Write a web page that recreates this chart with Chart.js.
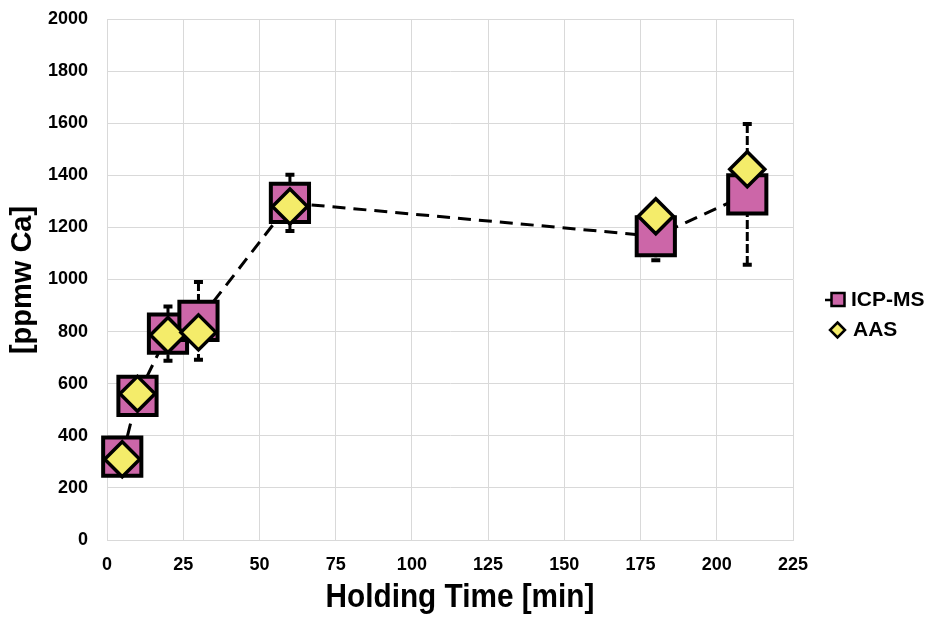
<!DOCTYPE html>
<html>
<head>
<meta charset="utf-8">
<script src="https://cdn.jsdelivr.net/npm/chart.js@4/dist/chart.umd.min.js"></script>
<style>
  html, body { margin: 0; padding: 0; background: #ffffff; }
  #wrap { width: 940px; height: 618px; }
</style>
</head>
<body>
<div id="wrap"><canvas id="chart" width="940" height="618"></canvas></div>
<script>
// Calcium content vs. holding time
const holdingTime = [5, 10, 20, 30, 60, 180, 210];          // min
const icpMs       = [320, 553, 792, 841, 1294, 1166, 1327];  // ppmw Ca
const icpMsErr    = [50, 45, 104, 149, 108, 92, 270];        // ± ppmw
const aas         = [310, 561, 787, 797, 1280, 1243, 1423];  // ppmw Ca

const xTickValues = [0, 25, 50, 75, 100, 125, 150, 175, 200, 225];
const yTickValues = [0, 200, 400, 600, 800, 1000, 1200, 1400, 1600, 1800, 2000];

const seriesNames = ['ICP-MS', 'AAS'];
const xTitle = 'Holding Time [min]';
const yTitle = '[ppmw Ca]';

const PINK = '#CC66A8';
const YELLOW = '#F4EC6A';
const FONT = '"Liberation Sans", Arial, sans-serif';

const toPoints = (xs, ys) => xs.map((x, i) => ({ x: x, y: ys[i] }));

// Dashed error bars with flat caps for the ICP-MS series
const errorBars = {
  id: 'errorBars',
  beforeDatasetsDraw(chart) {
    const ctx = chart.ctx, xs = chart.scales.x, ys = chart.scales.y;
    ctx.save();
    ctx.strokeStyle = '#000';
    holdingTime.forEach((t, i) => {
      const x = xs.getPixelForValue(t);
      const yTop = ys.getPixelForValue(icpMs[i] + icpMsErr[i]);
      const yBot = ys.getPixelForValue(icpMs[i] - icpMsErr[i]);
      ctx.lineWidth = 3;
      ctx.setLineDash([9, 3]);
      ctx.beginPath();
      ctx.moveTo(x, yTop);
      ctx.lineTo(x, yBot);
      ctx.stroke();
      ctx.setLineDash([]);
      ctx.lineWidth = 4;
      ctx.beginPath();
      ctx.moveTo(x - 4.5, yTop); ctx.lineTo(x + 4.5, yTop);
      ctx.moveTo(x - 4.5, yBot); ctx.lineTo(x + 4.5, yBot);
      ctx.stroke();
    });
    ctx.restore();
  }
};

// Axis titles and the legend on the right
const annotations = {
  id: 'annotations',
  afterDraw(chart) {
    const ctx = chart.ctx;
    ctx.save();
    ctx.fillStyle = '#000';

    // condensed bold x-axis title
    ctx.save();
    ctx.translate(460, 607);
    ctx.scale(0.875, 1);
    ctx.font = 'bold 34px ' + FONT;
    ctx.textAlign = 'center';
    ctx.textBaseline = 'alphabetic';
    ctx.fillText(xTitle, 0, 0);
    ctx.restore();

    ctx.save();
    ctx.translate(23, 280);
    ctx.rotate(-Math.PI / 2);
    ctx.font = 'bold 29px ' + FONT;
    ctx.textAlign = 'center';
    ctx.textBaseline = 'middle';
    ctx.fillText(yTitle, 0, 0);
    ctx.restore();

    // legend: ICP-MS
    ctx.strokeStyle = '#000';
    ctx.lineWidth = 2.5;
    ctx.beginPath();
    ctx.moveTo(825, 300); ctx.lineTo(840, 300);
    ctx.stroke();
    ctx.fillStyle = PINK;
    ctx.fillRect(831.5, 293, 13, 13);
    ctx.strokeRect(831.5, 293, 13, 13);

    // legend: AAS
    ctx.beginPath();
    ctx.moveTo(837.5, 322.5);
    ctx.lineTo(845, 330);
    ctx.lineTo(837.5, 337.5);
    ctx.lineTo(830, 330);
    ctx.closePath();
    ctx.fillStyle = YELLOW;
    ctx.fill();
    ctx.stroke();

    ctx.fillStyle = '#000';
    ctx.font = 'bold 21px ' + FONT;
    ctx.textAlign = 'left';
    ctx.textBaseline = 'middle';
    ctx.fillText(seriesNames[0], 851, 300);
    ctx.fillText(seriesNames[1], 853, 330);
    ctx.restore();
  }
};

const gridColor = '#d9d9d9';
const tickFont = { family: FONT, size: 18, weight: 'bold' };

new Chart(document.getElementById('chart'), {
  type: 'scatter',
  data: {
    datasets: [
      {
        label: seriesNames[0],
        data: toPoints(holdingTime, icpMs),
        showLine: true,
        borderColor: '#000',
        borderWidth: 3,
        borderDash: [13, 8],
        tension: 0,
        pointStyle: 'rect',
        pointRadius: 27,
        pointBorderWidth: 4,
        pointBackgroundColor: PINK,
        pointBorderColor: '#000',
        clip: false,
        order: 2
      },
      {
        label: seriesNames[1],
        data: toPoints(holdingTime, aas),
        showLine: false,
        pointStyle: 'rectRot',
        pointRadius: 17.5,
        pointBorderWidth: 3.5,
        pointBackgroundColor: YELLOW,
        pointBorderColor: '#000',
        clip: false,
        order: 1
      }
    ]
  },
  options: {
    responsive: false,
    devicePixelRatio: 1,
    animation: false,
    events: [],
    layout: { autoPadding: false, padding: { left: 0, right: 147, top: 19, bottom: 0 } },
    plugins: {
      legend: { display: false },
      tooltip: { enabled: false }
    },
    scales: {
      x: {
        type: 'linear',
        min: 0, max: 225,
        afterBuildTicks: s => { s.ticks = xTickValues.map(v => ({ value: v })); },
        afterFit: s => { s.height = 78; s.paddingLeft = 0; s.paddingRight = 0; },
        grid: { color: gridColor, lineWidth: 1, drawTicks: false },
        border: { color: gridColor, width: 1 },
        ticks: { color: '#000', font: tickFont, padding: 14, maxRotation: 0, callback: v => String(v) }
      },
      y: {
        type: 'linear',
        min: 0, max: 2000,
        afterBuildTicks: s => { s.ticks = yTickValues.map(v => ({ value: v })); },
        afterFit: s => { s.width = 107; s.paddingTop = 0; s.paddingBottom = 0; },
        grid: { color: gridColor, lineWidth: 1, drawTicks: false },
        border: { color: gridColor, width: 1 },
        ticks: { color: '#000', font: tickFont, padding: 19, callback: v => String(v) }
      }
    }
  },
  plugins: [errorBars, annotations]
});
</script>
</body>
</html>
